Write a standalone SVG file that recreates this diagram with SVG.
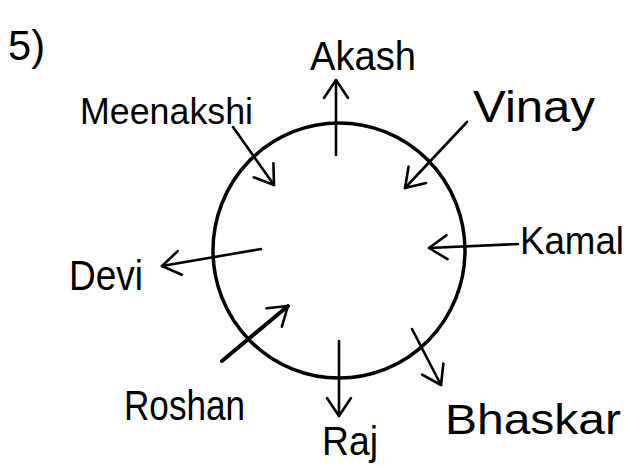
<svg xmlns="http://www.w3.org/2000/svg" width="636" height="468" viewBox="0 0 636 468">
<style>
text{font-family:"Liberation Sans","DejaVu Sans",sans-serif;fill:#000;}
.ln{stroke:#000;stroke-width:2.6;fill:none;stroke-linecap:round;marker-end:url(#ah);}
</style>
<defs>
<marker id="ah" viewBox="0 0 22 28" refX="20" refY="14" markerWidth="22" markerHeight="28" markerUnits="userSpaceOnUse" orient="auto">
<path d="M2,2 L20,14 L2,26" fill="none" stroke="#000" stroke-width="2.6" stroke-linecap="round" stroke-linejoin="round"/>
</marker>
</defs>
<rect width="636" height="468" fill="#fff"/>
<text x="8" y="60" font-size="42" textLength="37" lengthAdjust="spacingAndGlyphs">5)</text>
<g id="table"><ellipse cx="339" cy="250.5" rx="126" ry="127.5" fill="none" stroke="#000" stroke-width="3.5"/></g>
<g id="akash"><text x="310" y="70" font-size="40" textLength="106" lengthAdjust="spacingAndGlyphs">Akash</text></g>
<g id="meenakshi"><text x="80" y="124" font-size="36" textLength="173" lengthAdjust="spacingAndGlyphs">Meenakshi</text></g>
<g id="vinay"><text x="473" y="122" font-size="44" textLength="122" lengthAdjust="spacingAndGlyphs">Vinay</text></g>
<g id="kamal"><text x="520" y="254" font-size="38" textLength="104" lengthAdjust="spacingAndGlyphs">Kamal</text></g>
<g id="devi"><text x="69" y="290" font-size="42" textLength="74" lengthAdjust="spacingAndGlyphs">Devi</text></g>
<g id="roshan"><text x="124" y="420" font-size="42" textLength="121" lengthAdjust="spacingAndGlyphs">Roshan</text></g>
<g id="raj"><text x="322" y="455" font-size="40" textLength="56" lengthAdjust="spacingAndGlyphs">Raj</text></g>
<g id="bhaskar"><text x="445" y="434" font-size="42" textLength="176" lengthAdjust="spacingAndGlyphs">Bhaskar</text></g>
<g id="connectors">
<line class="ln" x1="336" y1="155" x2="336" y2="80"/>
<line class="ln" x1="233" y1="127" x2="274" y2="185"/>
<line class="ln" x1="467" y1="122" x2="405" y2="188"/>
<line class="ln" x1="518" y1="244" x2="429" y2="248"/>
<line class="ln" x1="261" y1="249" x2="162" y2="266"/>
<line class="ln" x1="222" y1="361" x2="288" y2="306" style="stroke-width:4"/>
<line class="ln" x1="339" y1="341" x2="339" y2="416"/>
<line class="ln" x1="412" y1="329" x2="441" y2="385"/>
</g>
</svg>
